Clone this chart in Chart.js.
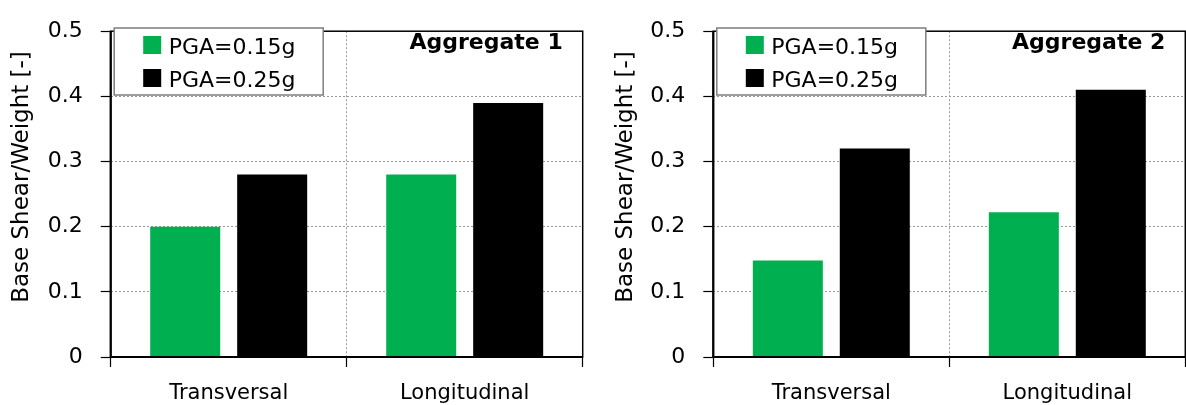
<!DOCTYPE html>
<html>
<head>
<meta charset="utf-8">
<script src="https://cdn.jsdelivr.net/npm/chart.js@4"></script>
<style>
body{margin:0;background:#fff;}
#wrap{position:relative;width:1186px;height:405px;}
.box{position:absolute;top:0;height:405px;}
</style>
</head>
<body>
<div id="wrap">
  <div class="box" style="left:0;width:593px;"><canvas id="chart1" width="593" height="405"></canvas></div>
  <div class="box" style="left:593px;width:593px;"><canvas id="chart2" width="593" height="405"></canvas></div>
</div>
<script>
//=============================DATA===============================//
var categories = ["Transversal", "Longitudinal"];
var seriesNames = ["PGA=0.15g", "PGA=0.25g"];
var seriesColors = ["#00B050", "#000000"];
var agg1Pga015 = [0.20, 0.28];
var agg1Pga025 = [0.28, 0.39];
var agg2Pga015 = [0.148, 0.222];
var agg2Pga025 = [0.32, 0.41];
var yTickValues = [0, 0.1, 0.2, 0.3, 0.4, 0.5];
var yAxisTitle = "Base Shear/Weight [-]";

var fontName = "'DejaVu Sans', sans-serif";
Chart.defaults.color = "#000";
Chart.defaults.font.family = fontName;

//=========================EXTRA DRAWING==========================//
// frame, in-plot legend, aggregate label, y axis title
var extrasPlugin = {
    id: "extras",
    afterDraw: function(chart, args, opts){
        var ctx = chart.ctx;
        var a = chart.chartArea;
        ctx.save();
        // plot frame
        ctx.strokeStyle = "#000";
        ctx.lineWidth = 1.5;
        ctx.strokeRect(a.left, a.top, a.right - a.left, a.bottom - a.top);
        ctx.lineWidth = 2.2;
        ctx.beginPath();
        ctx.moveTo(a.left, a.top);
        ctx.lineTo(a.left, a.bottom);
        ctx.lineTo(a.right, a.bottom);
        ctx.stroke();

        // legend box
        var bx = a.left + 3.5, by = 28, bw = 209, bh = 67;
        ctx.fillStyle = "#fff";
        ctx.fillRect(bx, by, bw, bh);
        ctx.strokeStyle = "#7f7f7f";
        ctx.lineWidth = 1.5;
        ctx.strokeRect(bx, by, bw, bh);
        ctx.font = "22px " + fontName;
        ctx.textAlign = "left";
        ctx.textBaseline = "alphabetic";
        chart.data.datasets.forEach(function(ds, i){
            var rowY = by + 17 + i * 33;
            ctx.fillStyle = ds.backgroundColor;
            ctx.fillRect(bx + 29, rowY - 9, 18, 18);
            ctx.fillStyle = "#000";
            ctx.fillText(ds.label, bx + 54.5, rowY + 8.5);
        });

        // aggregate label
        ctx.font = "bold 22px " + fontName;
        ctx.textAlign = "right";
        ctx.fillText(opts.label, a.right - 20, 49);

        // y axis title
        ctx.font = "23px " + fontName;
        ctx.textAlign = "center";
        ctx.textBaseline = "middle";
        ctx.translate(opts.titleX, 177);
        ctx.rotate(-Math.PI / 2);
        ctx.fillText(yAxisTitle, 0, 0);
        ctx.restore();
    }
};

function makeChart(canvasId, green, black, label, axisWidth, padRight, titleX){
    return new Chart(canvasId, {
        type: "bar",
        data: {
            labels: categories,
            datasets: [{
                label: seriesNames[0],
                data: green,
                backgroundColor: seriesColors[0],
                categoryPercentage: 0.737,
                barPercentage: 0.805
            },{
                label: seriesNames[1],
                data: black,
                backgroundColor: seriesColors[1],
                categoryPercentage: 0.737,
                barPercentage: 0.805
            }]
        },
        plugins: [extrasPlugin],
        options: {
            responsive: false,
            animation: false,
            layout: { padding: { left: 0, right: padRight, top: 21, bottom: 0 } },
            plugins: {
                legend: { display: false },
                tooltip: { enabled: false },
                extras: { label: label, titleX: titleX }
            },
            scales: {
                x: {
                    grid: {
                        offset: true,
                        color: "#9a9a9a",
                        lineWidth: 1,
                        tickColor: "#000",
                        tickLength: 10,
                        tickWidth: 1.2
                    },
                    border: { display: false, dash: [2, 2] },
                    ticks: { font: { size: 21 }, padding: 14, color: "#000" },
                    afterFit: function(scale){ scale.height = 48; }
                },
                y: {
                    min: 0,
                    max: 0.5,
                    afterBuildTicks: function(scale){
                        scale.ticks = yTickValues.map(function(v){ return { value: v }; });
                    },
                    grid: {
                        color: "#9a9a9a",
                        lineWidth: 1,
                        tickColor: "#000",
                        tickLength: 10,
                        tickWidth: 1.2
                    },
                    border: { display: false, dash: [2, 2] },
                    ticks: {
                        font: { size: 22 },
                        padding: 18,
                        color: "#000",
                        callback: function(v){ return String(Math.round(v * 10) / 10); }
                    },
                    afterFit: function(scale){ scale.width = axisWidth; }
                }
            }
        }
    });
}

makeChart("chart1", agg1Pga015, agg1Pga025, "Aggregate 1", 110.7, 10.3, 22.5);
makeChart("chart2", agg2Pga015, agg2Pga025, "Aggregate 2", 120.3, 0.7, 33);
</script>
</body>
</html>
